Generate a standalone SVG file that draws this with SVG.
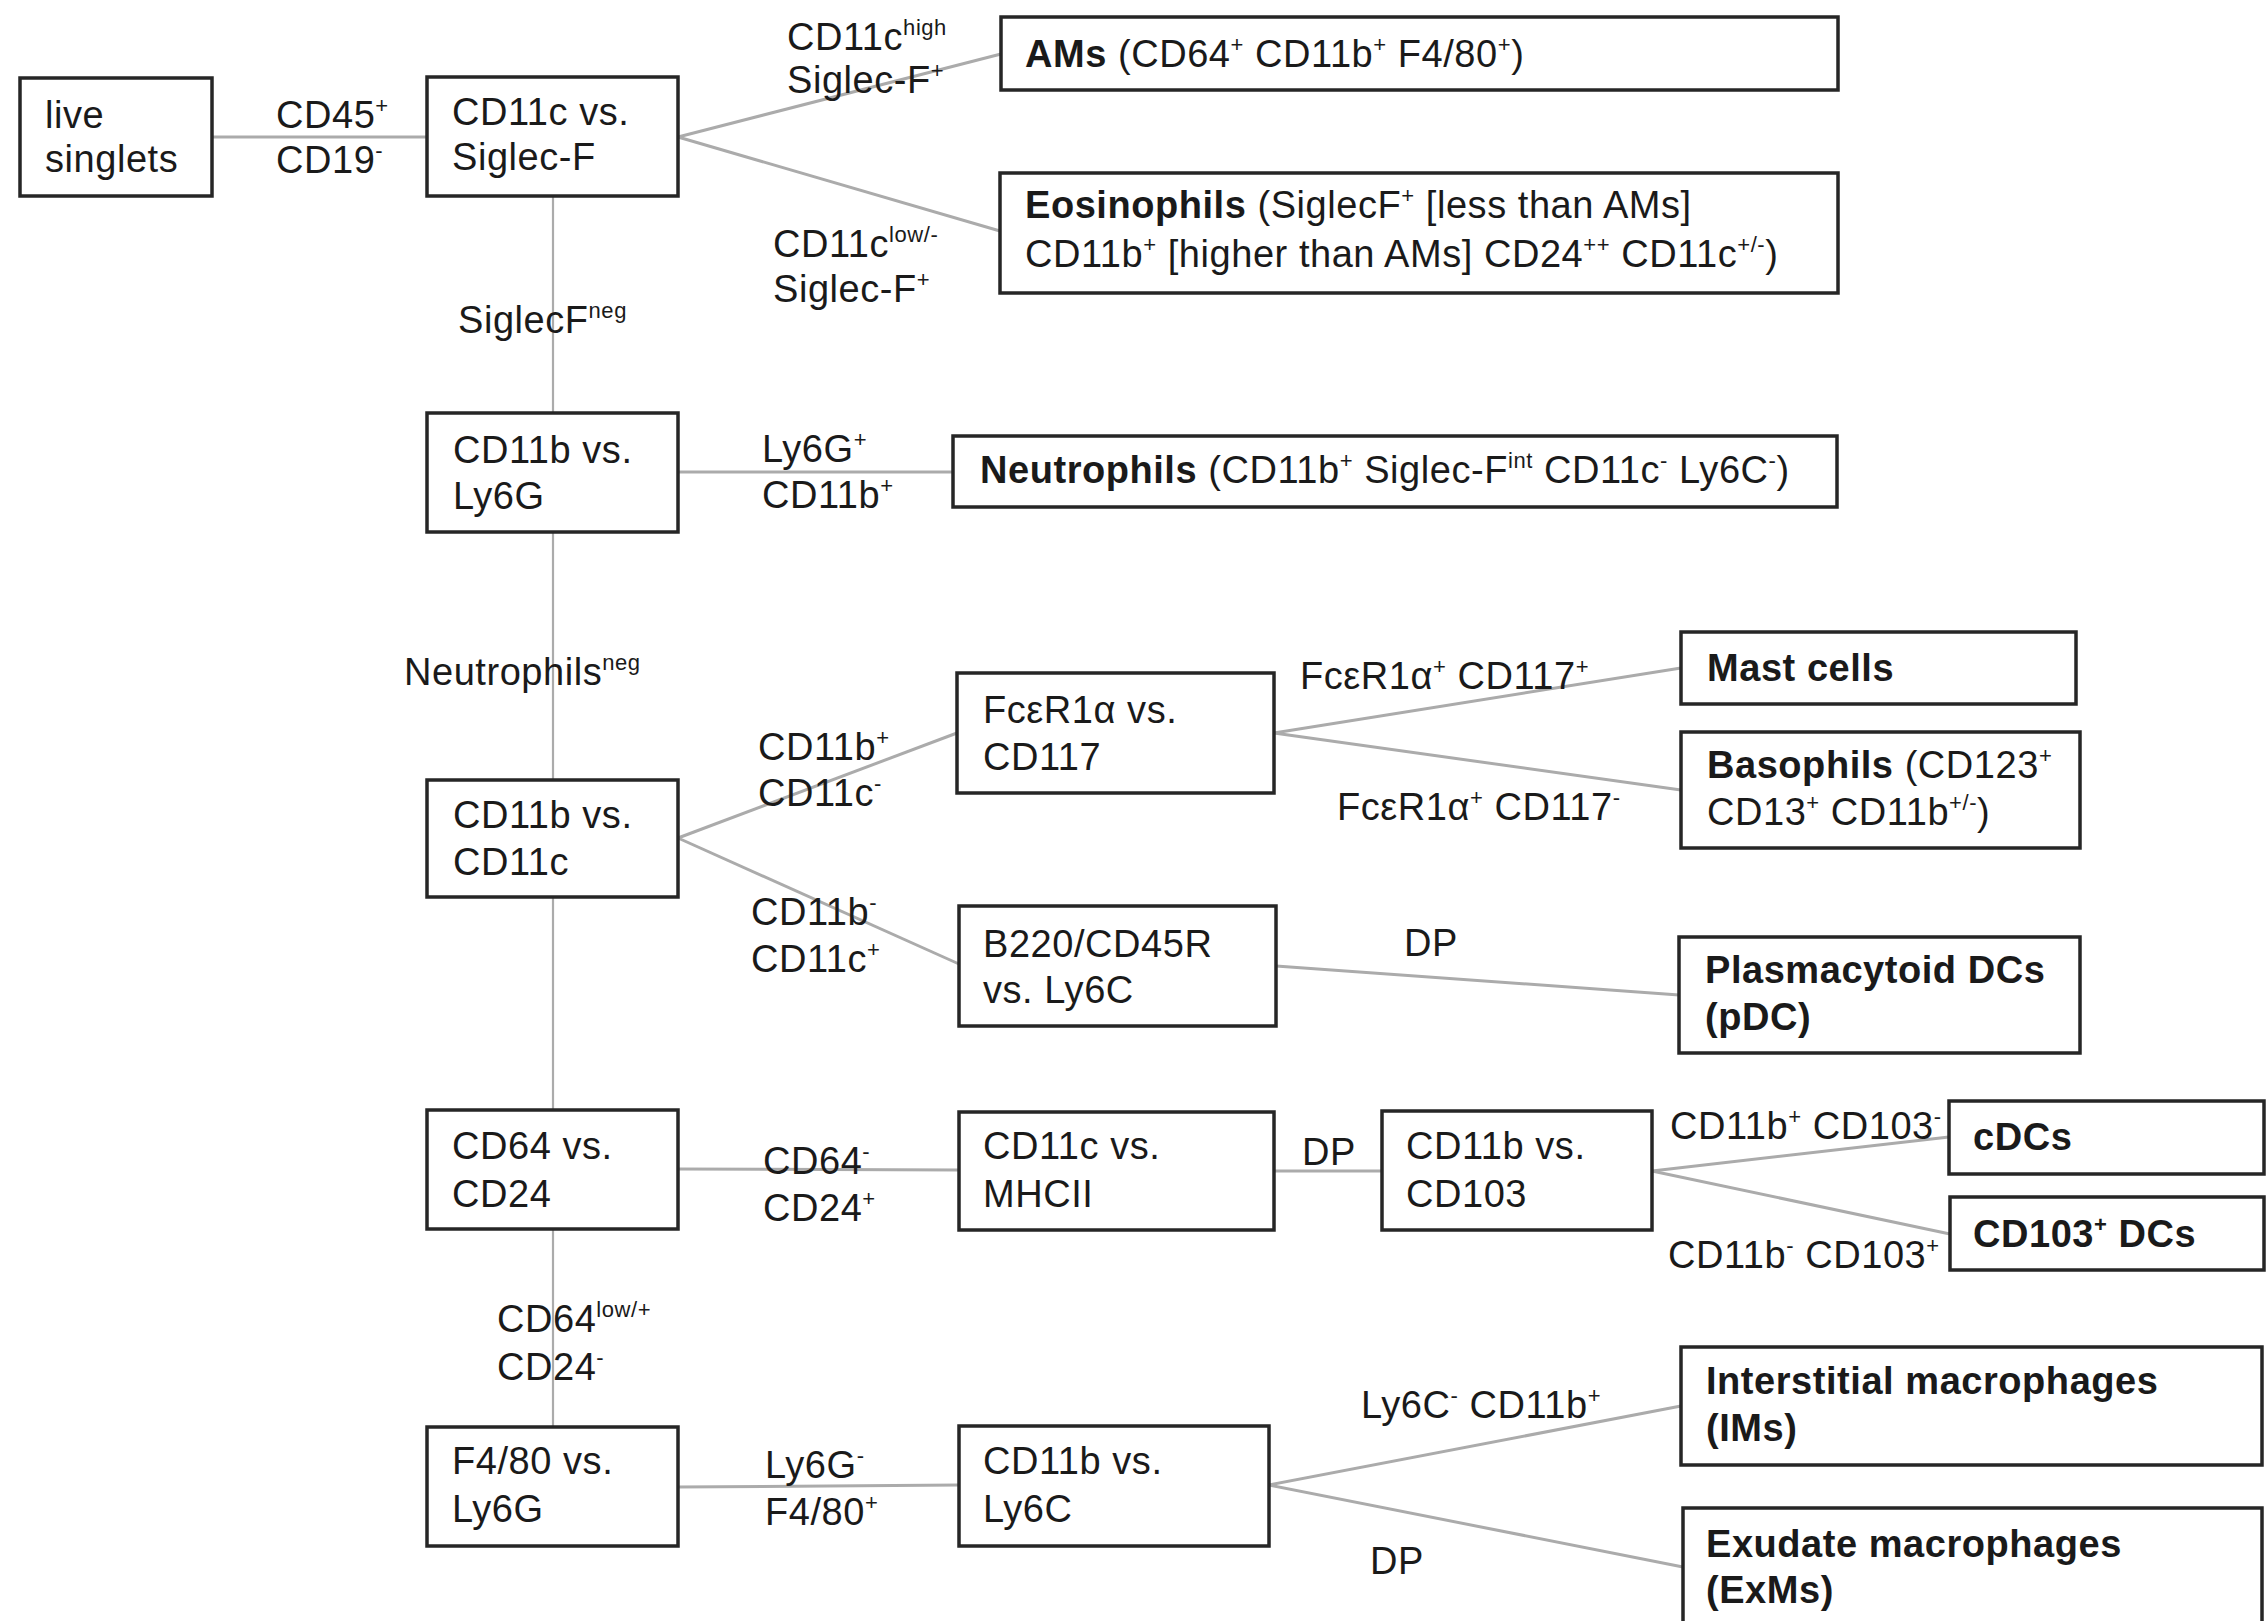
<svg xmlns="http://www.w3.org/2000/svg" width="2266" height="1621" viewBox="0 0 2266 1621">
<style>
text{font-family:"Liberation Sans",Arial,sans-serif;font-size:38px;fill:#1a1a1a;letter-spacing:0.55px}
.b{font-weight:bold}
.s{font-size:22px;baseline-shift:15px}
.box{fill:#fff;stroke:#262626;stroke-width:3.5}
.c line{stroke:#ababab;stroke-width:3}
.c line.v{stroke-width:2.2}
</style>
<rect width="2266" height="1621" fill="#fff"/>
<g id="connectors" class="c">
<line x1="212" y1="137" x2="427" y2="137"/>
<line x1="678" y1="137" x2="1001" y2="54"/>
<line x1="678" y1="137" x2="1000" y2="231"/>
<line class="v" x1="553" y1="196" x2="553" y2="413"/>
<line class="v" x1="553" y1="532" x2="553" y2="780"/>
<line class="v" x1="553" y1="897" x2="553" y2="1110"/>
<line class="v" x1="553" y1="1229" x2="553" y2="1427"/>
<line x1="678" y1="472" x2="953" y2="472"/>
<line x1="678" y1="838" x2="957" y2="733"/>
<line x1="678" y1="838" x2="959" y2="964"/>
<line x1="1274" y1="733" x2="1681" y2="668"/>
<line x1="1274" y1="733" x2="1681" y2="790"/>
<line x1="1276" y1="966" x2="1679" y2="995"/>
<line x1="678" y1="1169" x2="959" y2="1170"/>
<line x1="1274" y1="1171" x2="1382" y2="1171"/>
<line x1="1652" y1="1171" x2="1949" y2="1137"/>
<line x1="1652" y1="1171" x2="1950" y2="1234"/>
<line x1="678" y1="1487" x2="959" y2="1485"/>
<line x1="1269" y1="1485" x2="1681" y2="1406"/>
<line x1="1269" y1="1485" x2="1683" y2="1567"/>
</g>
<g id="edge-labels">
<text x="276" y="128">CD45<tspan class="s">+</tspan></text>
<text x="276" y="173">CD19<tspan class="s">-</tspan></text>
<text x="787" y="50">CD11c<tspan class="s">high</tspan></text>
<text x="787" y="93">Siglec-F<tspan class="s">+</tspan></text>
<text x="773" y="257">CD11c<tspan class="s">low/-</tspan></text>
<text x="773" y="302">Siglec-F<tspan class="s">+</tspan></text>
<text x="458" y="333">SiglecF<tspan class="s">neg</tspan></text>
<text x="762" y="462">Ly6G<tspan class="s">+</tspan></text>
<text x="762" y="508">CD11b<tspan class="s">+</tspan></text>
<text x="404" y="685">Neutrophils<tspan class="s">neg</tspan></text>
<text x="758" y="760">CD11b<tspan class="s">+</tspan></text>
<text x="758" y="806">CD11c<tspan class="s">-</tspan></text>
<text x="751" y="925">CD11b<tspan class="s">-</tspan></text>
<text x="751" y="972">CD11c<tspan class="s">+</tspan></text>
<text x="1300" y="689">FcεR1α<tspan class="s">+</tspan> CD117<tspan class="s">+</tspan></text>
<text x="1337" y="820">FcεR1α<tspan class="s">+</tspan> CD117<tspan class="s">-</tspan></text>
<text x="1404" y="956">DP</text>
<text x="763" y="1174">CD64<tspan class="s">-</tspan></text>
<text x="763" y="1221">CD24<tspan class="s">+</tspan></text>
<text x="1302" y="1165">DP</text>
<text x="1670" y="1139">CD11b<tspan class="s">+</tspan> CD103<tspan class="s">-</tspan></text>
<text x="1668" y="1268">CD11b<tspan class="s">-</tspan> CD103<tspan class="s">+</tspan></text>
<text x="497" y="1332">CD64<tspan class="s">low/+</tspan></text>
<text x="497" y="1380">CD24<tspan class="s">-</tspan></text>
<text x="765" y="1478">Ly6G<tspan class="s">-</tspan></text>
<text x="765" y="1525">F4/80<tspan class="s">+</tspan></text>
<text x="1361" y="1418">Ly6C<tspan class="s">-</tspan> CD11b<tspan class="s">+</tspan></text>
<text x="1370" y="1574">DP</text>
</g>
<g id="n_live"><rect class="box" x="20" y="78" width="192" height="118"/><text x="45" y="128">live</text><text x="45" y="172">singlets</text></g>
<g id="n_cd11c_siglecf"><rect class="box" x="427" y="77" width="251" height="119"/><text x="452" y="125">CD11c vs.</text><text x="452" y="170">Siglec-F</text></g>
<g id="n_ams"><rect class="box" x="1001" y="17" width="837" height="73"/><text x="1025" y="67"><tspan class="b">AMs</tspan> (CD64<tspan class="s">+</tspan> CD11b<tspan class="s">+</tspan> F4/80<tspan class="s">+</tspan>)</text></g>
<g id="n_eos"><rect class="box" x="1000" y="173" width="838" height="120"/><text x="1025" y="218"><tspan class="b">Eosinophils</tspan> (SiglecF<tspan class="s">+</tspan> [less than AMs]</text><text x="1025" y="267">CD11b<tspan class="s">+</tspan> [higher than AMs] CD24<tspan class="s">++</tspan> CD11c<tspan class="s">+/-</tspan>)</text></g>
<g id="n_cd11b_ly6g"><rect class="box" x="427" y="413" width="251" height="119"/><text x="453" y="463">CD11b vs.</text><text x="453" y="509">Ly6G</text></g>
<g id="n_neutrophils"><rect class="box" x="953" y="436" width="884" height="71"/><text x="980" y="483"><tspan class="b">Neutrophils</tspan> (CD11b<tspan class="s">+</tspan> Siglec-F<tspan class="s">int</tspan> CD11c<tspan class="s">-</tspan> Ly6C<tspan class="s">-</tspan>)</text></g>
<g id="n_cd11b_cd11c"><rect class="box" x="427" y="780" width="251" height="117"/><text x="453" y="828">CD11b vs.</text><text x="453" y="875">CD11c</text></g>
<g id="n_fce_cd117"><rect class="box" x="957" y="673" width="317" height="120"/><text x="983" y="723">FcεR1α vs.</text><text x="983" y="770">CD117</text></g>
<g id="n_b220_ly6c"><rect class="box" x="959" y="906" width="317" height="120"/><text x="983" y="957">B220/CD45R</text><text x="983" y="1003">vs. Ly6C</text></g>
<g id="n_mast"><rect class="box" x="1681" y="632" width="395" height="72"/><text x="1707" y="681" class="b">Mast cells</text></g>
<g id="n_basophils"><rect class="box" x="1681" y="732" width="399" height="116"/><text x="1707" y="778"><tspan class="b">Basophils</tspan> (CD123<tspan class="s">+</tspan></text><text x="1707" y="825">CD13<tspan class="s">+</tspan> CD11b<tspan class="s">+/-</tspan>)</text></g>
<g id="n_pdc"><rect class="box" x="1679" y="937" width="401" height="116"/><text x="1705" y="983" class="b">Plasmacytoid DCs</text><text x="1705" y="1030" class="b">(pDC)</text></g>
<g id="n_cd64_cd24"><rect class="box" x="427" y="1110" width="251" height="119"/><text x="452" y="1159">CD64 vs.</text><text x="452" y="1207">CD24</text></g>
<g id="n_cd11c_mhcii"><rect class="box" x="959" y="1112" width="315" height="118"/><text x="983" y="1159">CD11c vs.</text><text x="983" y="1207">MHCII</text></g>
<g id="n_cd11b_cd103"><rect class="box" x="1382" y="1111" width="270" height="119"/><text x="1406" y="1159">CD11b vs.</text><text x="1406" y="1207">CD103</text></g>
<g id="n_cdcs"><rect class="box" x="1949" y="1101" width="315" height="73"/><text x="1973" y="1150" class="b">cDCs</text></g>
<g id="n_cd103_dcs"><rect class="box" x="1950" y="1197" width="314" height="73"/><text x="1973" y="1247" class="b">CD103<tspan class="s">+</tspan> DCs</text></g>
<g id="n_f480_ly6g"><rect class="box" x="427" y="1427" width="251" height="119"/><text x="452" y="1474">F4/80 vs.</text><text x="452" y="1522">Ly6G</text></g>
<g id="n_cd11b_ly6c"><rect class="box" x="959" y="1426" width="310" height="120"/><text x="983" y="1474">CD11b vs.</text><text x="983" y="1522">Ly6C</text></g>
<g id="n_ims"><rect class="box" x="1681" y="1347" width="581" height="118"/><text x="1706" y="1394" class="b">Interstitial macrophages</text><text x="1706" y="1441" class="b">(IMs)</text></g>
<g id="n_exms"><rect class="box" x="1683" y="1508" width="579" height="130"/><text x="1706" y="1557" class="b">Exudate macrophages</text><text x="1706" y="1603" class="b">(ExMs)</text></g>
</svg>
